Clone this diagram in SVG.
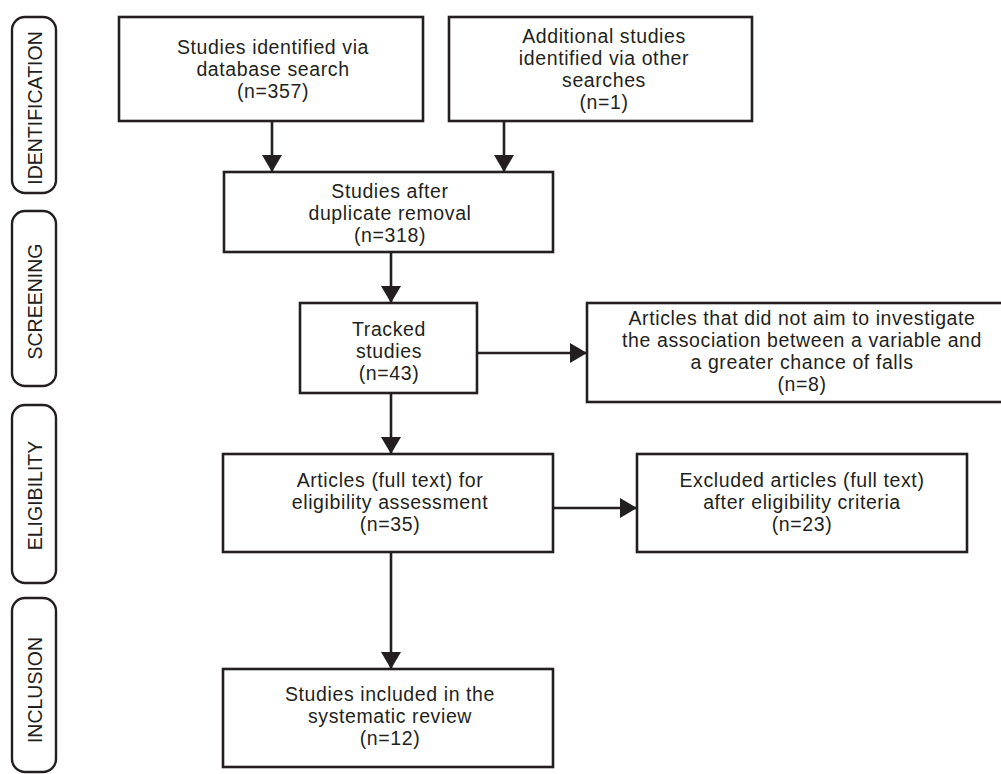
<svg xmlns="http://www.w3.org/2000/svg" width="1001" height="774" viewBox="0 0 1001 774">
  <style>
    .box { fill: #ffffff; stroke: #231f20; stroke-width: 2.6; }
    .stage { fill: #ffffff; stroke: #231f20; stroke-width: 2.4; }
    .t { font-family: "Liberation Sans", Arial, sans-serif; font-size: 19.5px; letter-spacing: 0.6px; fill: #231f20; text-anchor: middle; }
    .lbl { font-family: "Liberation Sans", Arial, sans-serif; font-size: 19.5px; fill: #231f20; text-anchor: middle; }
    .conn { stroke: #231f20; stroke-width: 2.6; fill: none; }
  </style>
  <defs>
    <marker id="ah" viewBox="0 0 17 20" refX="17" refY="10" markerWidth="17" markerHeight="20" markerUnits="userSpaceOnUse" orient="auto">
      <path d="M0,0 L17,10 L0,20 Z" fill="#231f20"/>
    </marker>
  </defs>
  <rect width="1001" height="774" fill="#ffffff"/>

  <g id="stage-identification">
    <rect class="stage" x="12" y="17" width="44" height="176" rx="13"/>
    <text class="lbl" transform="translate(42,108) rotate(-90)">IDENTIFICATION</text>
  </g>
  <g id="stage-screening">
    <rect class="stage" x="12" y="211" width="44" height="175" rx="13"/>
    <text class="lbl" transform="translate(42,301.5) rotate(-90)">SCREENING</text>
  </g>
  <g id="stage-eligibility">
    <rect class="stage" x="12" y="405" width="44" height="178" rx="13"/>
    <text class="lbl" transform="translate(42,495.5) rotate(-90)">ELIGIBILITY</text>
  </g>
  <g id="stage-inclusion">
    <rect class="stage" x="12" y="598" width="44" height="174" rx="13"/>
    <text class="lbl" transform="translate(42,690) rotate(-90)">INCLUSION</text>
  </g>

  <g id="connectors">
    <line class="conn" x1="272" y1="121" x2="272" y2="172" marker-end="url(#ah)"/>
    <line class="conn" x1="504" y1="121" x2="504" y2="172" marker-end="url(#ah)"/>
    <line class="conn" x1="391" y1="252" x2="391" y2="303" marker-end="url(#ah)"/>
    <line class="conn" x1="477" y1="353" x2="587" y2="353" marker-end="url(#ah)"/>
    <line class="conn" x1="391" y1="393" x2="391" y2="454" marker-end="url(#ah)"/>
    <line class="conn" x1="553" y1="508" x2="637" y2="508" marker-end="url(#ah)"/>
    <line class="conn" x1="391" y1="552" x2="391" y2="669" marker-end="url(#ah)"/>
  </g>

  <g id="n-database">
    <rect class="box" x="119" y="17" width="304" height="104"/>
    <text class="t" y="54"><tspan x="273">Studies identified via</tspan><tspan x="273" dy="22">database search</tspan><tspan x="273" dy="22">(n=357)</tspan></text>
  </g>
  <g id="n-other">
    <rect class="box" x="449" y="17" width="303" height="104"/>
    <text class="t" y="43"><tspan x="604">Additional studies</tspan><tspan x="604" dy="22">identified via other</tspan><tspan x="604" dy="22">searches</tspan><tspan x="604" dy="22">(n=1)</tspan></text>
  </g>
  <g id="n-dedup">
    <rect class="box" x="224" y="172" width="329" height="80"/>
    <text class="t" y="197.5"><tspan x="390">Studies after</tspan><tspan x="390" dy="22">duplicate removal</tspan><tspan x="390" dy="22">(n=318)</tspan></text>
  </g>
  <g id="n-tracked">
    <rect class="box" x="300" y="303" width="177" height="90"/>
    <text class="t" y="335.5"><tspan x="389">Tracked</tspan><tspan x="389" dy="22">studies</tspan><tspan x="389" dy="22">(n=43)</tspan></text>
  </g>
  <g id="n-notaim">
    <rect class="box" x="587" y="303" width="430" height="99"/>
    <text class="t" y="325"><tspan x="802">Articles that did not aim to investigate</tspan><tspan x="802" dy="22">the association between a variable and</tspan><tspan x="802" dy="22">a greater chance of falls</tspan><tspan x="802" dy="22">(n=8)</tspan></text>
  </g>
  <g id="n-fulltext">
    <rect class="box" x="223" y="454" width="330" height="98"/>
    <text class="t" y="486.5"><tspan x="390">Articles (full text) for</tspan><tspan x="390" dy="22">eligibility assessment</tspan><tspan x="390" dy="22">(n=35)</tspan></text>
  </g>
  <g id="n-excluded">
    <rect class="box" x="637" y="454" width="330" height="98"/>
    <text class="t" y="487"><tspan x="802">Excluded articles (full text)</tspan><tspan x="802" dy="22">after eligibility criteria</tspan><tspan x="802" dy="22">(n=23)</tspan></text>
  </g>
  <g id="n-included">
    <rect class="box" x="223" y="669" width="330" height="98"/>
    <text class="t" y="700.7"><tspan x="390">Studies included in the</tspan><tspan x="390" dy="22">systematic review</tspan><tspan x="390" dy="22">(n=12)</tspan></text>
  </g>
</svg>
